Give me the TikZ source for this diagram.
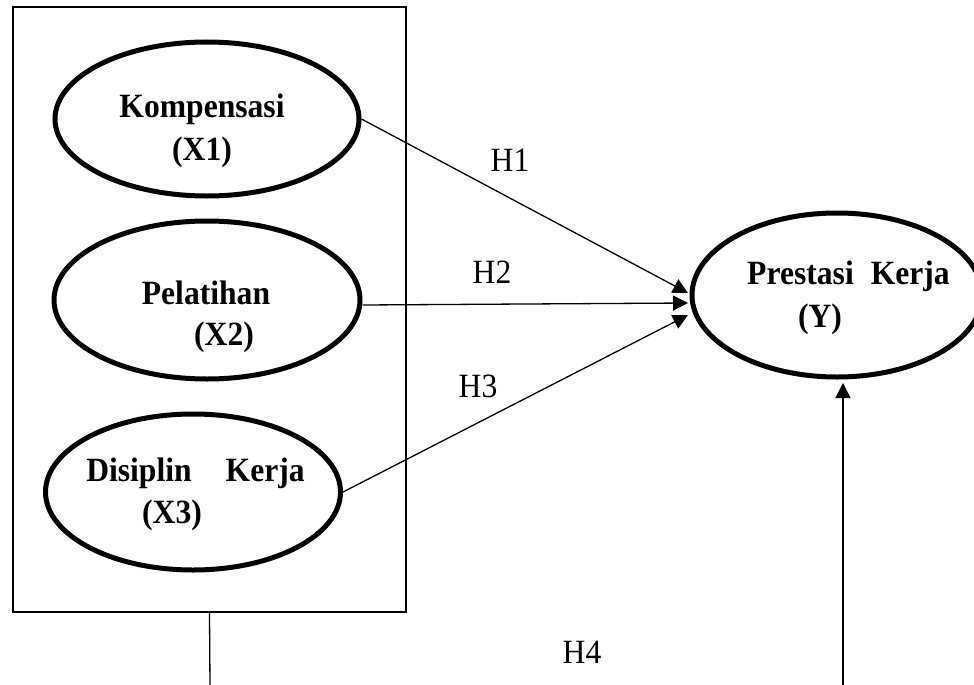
\documentclass[tikz,border=0pt]{standalone}
\usepackage{fontspec}
\setmainfont[FakeStretch=0.93]{Liberation Serif}
\usetikzlibrary{shapes.geometric,arrows.meta}
\begin{document}
\begin{tikzpicture}[x=1pt,y=-1pt,
  latent/.style={draw, ellipse, line width=5pt, inner sep=0pt},
  lbl/.style={anchor=base, font=\fontsize{34}{38}\selectfont\bfseries, inner sep=0pt},
  hlbl/.style={anchor=base, font=\fontsize{34}{38}\selectfont, inner sep=0pt},
  conn/.style={line width=1.3pt},
  arr/.style={conn, -{Triangle[length=15pt,width=15pt]}}]
\useasboundingbox (0,0) rectangle (974,685);
\clip (0,0) rectangle (974,685);
\node[draw, line width=2.3pt, minimum width=393pt, minimum height=605pt, inner sep=0pt] (box) at (209.5,309.5) {};
\node[latent, minimum width=304pt, minimum height=154pt] (x1) at (207,119) {};
\node[latent, minimum width=306pt, minimum height=158pt] (x2) at (207,300) {};
\node[latent, minimum width=295pt, minimum height=156pt] (x3) at (193,492) {};
\node[latent, minimum width=290pt, minimum height=164pt] (y) at (837,295) {};
\node[lbl] (x1a) at (202,117) {Kompensasi};
\node[lbl] (x1b) at (202,160) {(X1)};
\node[lbl] (x2a) at (206,304) {Pelatihan};
\node[lbl] (x2b) at (224,345) {(X2)};
\node[lbl] (x3a) at (195.5,481) {Disiplin\quad Kerja};
\node[lbl] (x3b) at (172,523) {(X3)};
\node[lbl] (ya) at (848.5,284) {Prestasi\enspace Kerja};
\node[lbl] (yb) at (820,327) {(Y)};
\node[hlbl] (h1) at (510,171) {H1};
\node[hlbl] (h2) at (492,283) {H2};
\node[hlbl] (h3) at (478,397) {H3};
\node[hlbl] (h4) at (582,663) {H4};
\coordinate (t1) at (688,293);
\coordinate (t2) at (688,303);
\coordinate (t3) at (688,315);
\coordinate (b4) at (210,686);
\coordinate (e4) at (843,686);
\coordinate (t4) at (843,383);
\draw[arr] (x1.east) -- (t1);
\draw[arr] ([yshift=-5pt]x2.east) -- (t2);
\draw[arr] (x3.east) -- (t3);
\draw[conn] (box.south) -- (b4);
\draw[arr] (e4) -- (t4);
\end{tikzpicture}
\end{document}
